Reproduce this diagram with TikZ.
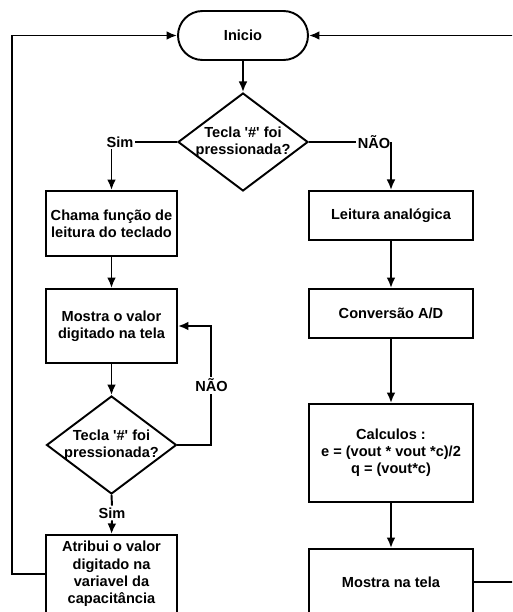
\documentclass[tikz,border=0pt]{standalone}
\usepackage{fontspec}
\setmainfont{Liberation Sans}
\usetikzlibrary{shapes.geometric,arrows.meta}

\begin{document}
\begin{tikzpicture}[x=0.02cm,y=-0.02cm]
\tikzset{process/.style = {shape=rectangle,draw,line width=1.1pt,align=center,inner sep=0pt,font=\fontsize{8.3}{9.8}\selectfont\bfseries}}
\tikzset{terminal/.style = {process,rounded corners=0.49cm,minimum width=2.6cm,minimum height=0.98cm}}
\tikzset{decision/.style = {process,shape=diamond,shape aspect=1.33,inner xsep=-0.5cm,minimum width=2.6cm,minimum height=1.96cm}}
\tikzset{tag/.style = {font=\fontsize{8.3}{9.8}\selectfont\bfseries,inner sep=1pt,fill=white}}
\tikzset{edge/.style = {->,> = {Latex[length=6pt,width=5pt]},line width=1.1pt}}
\useasboundingbox (0,0) rectangle (512,612);
\clip (0,0) rectangle (512,612);
% top
\node[terminal] (ini) at (243,35.5) {Inicio};
\node[decision] (d1) at (243,142) {Tecla \textquotesingle\#\textquotesingle{} foi\\pressionada?};
\node[tag] (sim1) at (120,142) {Sim};
\node[tag] (nao1) at (374,142) {NÃO};
% left column
\node[process,minimum width=2.62cm,minimum height=1.3cm] (c1) at (111.5,223.5) {Chama função de\\leitura do teclado};
\node[process,minimum width=2.62cm,minimum height=1.48cm] (m1) at (111.5,326) {Mostra o valor\\digitado na tela};
\node[decision] (d2) at (111.5,445) {Tecla \textquotesingle\#\textquotesingle{} foi\\pressionada?};
\node[tag] (sim2) at (112,513) {Sim};
\node[process,minimum width=2.62cm,minimum height=1.56cm] (a1) at (111.5,574) {Atribui o valor\\digitado na\\variavel da\\capacitância};
% right column
\node[process,minimum width=3.28cm,minimum height=0.98cm] (l1) at (391,215.5) {Leitura analógica};
\node[process,minimum width=3.28cm,minimum height=0.98cm] (cv) at (391,313.5) {Conversão A/D};
\node[process,minimum width=3.28cm,minimum height=1.96cm] (calc) at (391,453) {Calculos :\\e = (vout * vout *c)/2\\q = (vout*c)};
\node[process,minimum width=3.28cm,minimum height=1.32cm] (mt) at (391,582) {Mostra na tela};
% connectors
\draw[edge] (ini) to (d1);
\draw[line width=1.1pt] (d1.west) to (sim1.east);
\draw[edge] (sim1.south -| c1.north) to (c1.north);
\draw[line width=1.1pt] (d1.east) to (nao1.west);
\draw[edge] (nao1.east -| l1.north) to (l1.north);
\draw[edge] (c1) to (m1);
\draw[edge] (m1) to (d2);
\draw[edge] (d2.east) -- ++(34,0) |- node[tag,pos=0.25] (nao2) {NÃO} (m1.east);
\draw[line width=1.1pt] (d2.south) to (sim2.north);
\draw[edge] (sim2.south) to (a1.north);
\draw[edge] (a1.west) -- ++(-33,0) |- (ini.west);
\draw[edge] (l1) to (cv);
\draw[edge] (cv) to (calc);
\draw[edge] (calc) to (mt);
\draw[edge] (mt.east) -- ++(41,0) |- (ini.east);
\end{tikzpicture}
\end{document}
